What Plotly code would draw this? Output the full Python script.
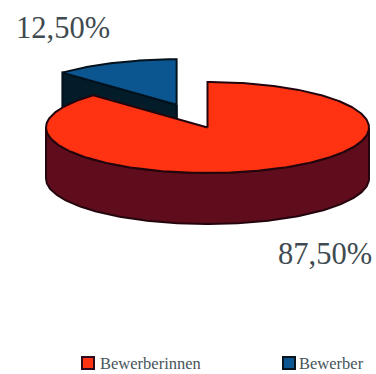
import numpy as np
import plotly.graph_objects as go

categories = ["Bewerberinnen", "Bewerber"]
shares = [87.5, 12.5]
top_colors = ["#ff3312", "#0b5690"]
wall_colors = ["#5f0c1c", "#031c2a"]
edge_colors = ["#24050d", "#02121c"]

# Projection of the tilted disc into the pixel-sized plot area
CX, CY = 207.5, 127.5
RX, RY = 161.5, 45.5
DEPTH = 51
EXPLODE = 0.5
SERIF = "Liberation Serif"


def rim(start, end, n=160):
    """Ellipse points, angle in degrees clockwise from twelve o'clock."""
    t = np.radians(np.linspace(start, end, n))
    return RX * np.sin(t), -RY * np.cos(t)


def poly(fig, x, y, fill, edge, width=2):
    fig.add_trace(go.Scatter(
        x=np.append(x, x[0]), y=np.append(y, y[0]), mode="lines", fill="toself",
        fillcolor=fill, line=dict(color=edge, width=width),
        hoverinfo="skip", showlegend=False,
    ))


fig = go.Figure()

sweep = [s / sum(shares) * 360 for s in shares]
red_end = sweep[0]
blue_end = red_end + sweep[1]

# Detached slice: cut face first, its top over it
mid = np.radians((red_end + blue_end) / 2)
ox = CX + EXPLODE * RX * np.sin(mid)
oy = CY - EXPLODE * RY * np.cos(mid) * 1.08
bx, by = rim(red_end, blue_end)
poly(fig,
     np.array([ox, ox + bx[0], ox + bx[0], ox]),
     np.array([oy, oy + by[0], oy + by[0] + DEPTH, oy + DEPTH]),
     wall_colors[1], edge_colors[1])
poly(fig,
     np.array([ox, ox, ox + 0.5]),
     np.array([oy, oy + DEPTH, oy + DEPTH]),
     wall_colors[1], edge_colors[1])
poly(fig, np.r_[ox, ox + bx], np.r_[oy, oy + by], top_colors[1], edge_colors[1])

# Main slice: visible outer wall from the right extreme through the bottom to the left
wx, wy = rim(90, 270)
poly(fig, np.r_[CX + wx, CX + wx[::-1]], np.r_[CY + wy, CY + wy[::-1] + DEPTH],
     wall_colors[0], edge_colors[0])
rx, ry = rim(0, red_end, 300)
poly(fig, np.r_[CX, CX + rx], np.r_[CY, CY + ry], top_colors[0], edge_colors[0])

# Value labels
pct = [f"{s:.2f}".replace(".", ",") + "%" for s in shares]
label_pos = [(325, 254), (63, 28)]
for text, (lx, ly) in zip(pct, label_pos):
    fig.add_annotation(x=lx, y=ly, text=text, showarrow=False,
                       font=dict(family=SERIF, size=30.5, color="#3f4b50"))

# Key below the disc
key_x = [88, 289]
text_x = [99, 298]
for name, kx, tx, fill, edge in zip(categories, key_x, text_x, top_colors, ["#2a0a1e", "#06141f"]):
    fig.add_trace(go.Scatter(
        x=[kx], y=[363], mode="markers",
        marker=dict(symbol="square", size=12, color=fill, line=dict(color=edge, width=2)),
        hoverinfo="skip", showlegend=False,
    ))
    fig.add_annotation(x=tx, y=363.5, text=name, showarrow=False, xanchor="left",
                       xshift=-1, font=dict(family=SERIF, size=16.5, color="#47545a"))

fig.update_xaxes(range=[0, 376], visible=False, fixedrange=True)
fig.update_yaxes(range=[374, 0], visible=False, fixedrange=True)
fig.update_layout(width=376, height=374, margin=dict(l=0, r=0, t=0, b=0),
                  paper_bgcolor="white", plot_bgcolor="white")
fig.write_html("out.html", config={"displayModeBar": False})
